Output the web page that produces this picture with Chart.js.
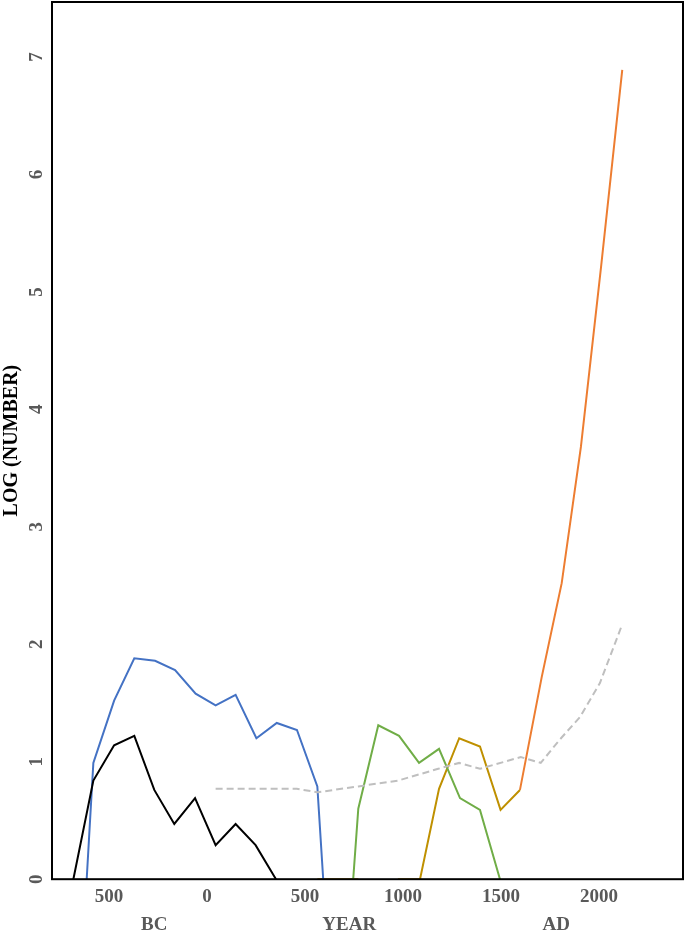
<!DOCTYPE html>
<html>
<head>
<meta charset="utf-8">
<script src="https://cdn.jsdelivr.net/npm/chart.js@4/dist/chart.umd.min.js"></script>
<style>
  html, body { margin: 0; padding: 0; background: #fff; }
  #wrap { width: 685px; height: 932px; }
</style>
</head>
<body>
<div id="wrap"><canvas id="chart" width="685" height="932"></canvas></div>
<script>
// Year ticks and y ticks
const yearTicks = [-500, 0, 500, 1000, 1500, 2000];
const logTicks = [0, 1, 2, 3, 4, 5, 6, 7];
const eraLabels = ['BC', 'YEAR', 'AD'];

// Series (year, log number)
const blackYears = [-682, -580, -474, -371, -269, -167, -61, 44, 146, 248, 352];
const blackValues = [0, 0.84, 1.14, 1.22, 0.76, 0.47, 0.69, 0.29, 0.47, 0.29, 0];

const blueYears = [-614, -580, -474, -371, -265, -163, -58, 44, 146, 252, 356, 459, 563, 593];
const blueValues = [0, 0.99, 1.52, 1.88, 1.86, 1.78, 1.58, 1.48, 1.57, 1.20, 1.33, 1.27, 0.79, 0];

const greenYears = [746, 772, 874, 980, 1082, 1184, 1291, 1393, 1495];
const greenValues = [0, 0.60, 1.31, 1.22, 0.99, 1.11, 0.69, 0.59, 0];

const goldYears = [563, 772, 870, 974, 1087, 1184, 1287, 1393, 1498, 1597];
const goldValues = [0, 0, null, 0, 0, 0.77, 1.20, 1.13, 0.59, 0.76];

const orangeYears = [1597, 1708, 1810, 1908, 2010, 2119];
const orangeValues = [0.76, 1.72, 2.52, 3.68, 5.2, 6.89];

const grayYears = [44, 458, 563, 772, 976, 1180, 1287, 1393, 1601, 1703, 1801, 1903, 2005, 2119];
const grayValues = [0.77, 0.77, 0.74, 0.79, 0.84, 0.94, 0.99, 0.94, 1.04, 0.99, 1.19, 1.38, 1.67, 2.17];

const toPoints = (xs, ys) => xs.map((x, i) => ({ x: x, y: ys[i] }));

const serif = "'Liberation Serif', 'Times New Roman', serif";
const tickGray = '#595959';

const line = (label, xs, ys, color, extra) => Object.assign({
  label: label,
  data: toPoints(xs, ys),
  borderColor: color,
  backgroundColor: color,
  borderWidth: 2,
  pointRadius: 0,
  tension: 0,
  spanGaps: false,
}, extra || {});

// Frame, rotated y tick labels and era words under the axis
const decorations = {
  id: 'decorations',
  afterDraw(chart) {
    const { ctx, chartArea: a, scales } = chart;
    ctx.save();
    ctx.strokeStyle = '#000';
    ctx.lineWidth = 2;
    ctx.strokeRect(a.left, a.top, a.right - a.left, a.bottom - a.top);

    ctx.fillStyle = tickGray;
    ctx.font = 'bold 19px ' + serif;
    ctx.textAlign = 'center';
    ctx.textBaseline = 'middle';
    logTicks.forEach(v => {
      const y = scales.y.getPixelForValue(v);
      ctx.save();
      ctx.translate(a.left - 15, y);
      ctx.rotate(-Math.PI / 2);
      ctx.fillText(String(v), 0, 0);
      ctx.restore();
    });

    // era words sit at fixed fractions of the plot width
    const w = a.right - a.left;
    const fr = [0.162, 0.471, 0.799];
    eraLabels.forEach((t, i) => {
      ctx.fillText(t, a.left + fr[i] * w, a.bottom + 46);
    });
    ctx.restore();
  },
};

new Chart(document.getElementById('chart'), {
  type: 'line',
  data: {
    datasets: [
      line('Gray', grayYears, grayValues, '#BFBFBF', { borderDash: [7, 4] }),
      line('Black', blackYears, blackValues, '#000000'),
      line('Blue', blueYears, blueValues, '#4472C4'),
      line('Green', greenYears, greenValues, '#70AD47'),
      line('Gold', goldYears, goldValues, '#BF9000'),
      line('Orange', orangeYears, orangeValues, '#ED7D31'),
    ],
  },
  options: {
    responsive: false,
    animation: false,
    layout: {
      padding: { top: 2, right: 2, bottom: 18, left: 0 },
    },
    scales: {
      x: {
        type: 'linear',
        min: -791,
        max: 2429,
        afterBuildTicks: (scale) => {
          scale.ticks = yearTicks.map(v => ({ value: v }));
        },
        grid: { display: false, drawTicks: false },
        border: { display: false },
        ticks: {
          padding: 6,
          maxRotation: 0,
          color: tickGray,
          font: { family: serif, size: 19, weight: 'bold' },
          callback: (value) => String(Math.abs(value)),
        },
      },
      y: {
        type: 'linear',
        min: 0,
        max: 7.468,
        grid: { display: false, drawTicks: false },
        border: { display: false },
        ticks: { display: false },
        title: {
          display: true,
          text: 'LOG (NUMBER)',
          color: '#000',
          font: { family: serif, size: 20, weight: 'bold' },
          padding: { top: 0, bottom: 28 },
        },
      },
    },
    plugins: {
      legend: { display: false },
      tooltip: { enabled: false },
    },
  },
  plugins: [decorations],
});
</script>
</body>
</html>
